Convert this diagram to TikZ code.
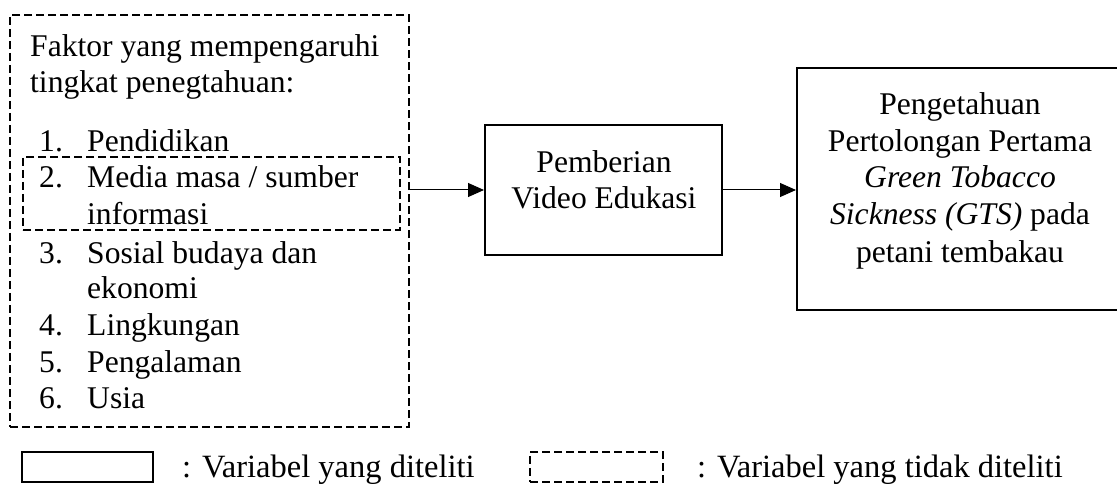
\documentclass[tikz,border=0pt]{standalone}
\usepackage{fontspec}
\setmainfont{Liberation Serif}
\usetikzlibrary{arrows.meta}
\begin{document}
\begin{tikzpicture}[x=1pt,y=-1pt,
  solidbox/.style={draw,line width=2pt,inner sep=0pt},
  dashbox/.style={draw,line width=1.6pt,dash pattern=on 8pt off 4pt,inner sep=0pt},
  txt/.style={inner sep=0pt,font=\fontsize{31.6pt}{36pt}\selectfont},
  arr/.style={line width=1pt,-{Triangle[length=16pt,width=14pt]}}]
  \useasboundingbox (0,0) rectangle (1117,484);

  % factors (not studied)
  \node[dashbox,minimum width=399pt,minimum height=412pt] (faktor) at (209.5,221) {};
  \node[dashbox,minimum width=377pt,minimum height=73pt] (media) at (211.5,193.5) {};
  \node[txt,anchor=base west] (judul1) at (30,57) {Faktor yang mempengaruhi};
  \node[txt,anchor=base west] (judul2) at (30,93) {tingkat penegtahuan:};
  \foreach \n/\y in {1/152,2/188,3/263,4/335,5/372,6/408} {
    \node[txt,anchor=base west] (no\n) at (39,\y) {\n.};
  }
  \foreach \y/\t [count=\i] in {152/Pendidikan,188/{Media masa / sumber},225/informasi,
      263/Sosial budaya dan,298/ekonomi,335/Lingkungan,372/Pengalaman,408/Usia} {
    \node[txt,anchor=base west] (item\i) at (87,\y) {\t};
  }

  % intervention and outcome
  \node[solidbox,minimum width=237pt,minimum height=130pt] (video) at (603.5,190) {};
  \node[txt,anchor=base] (video1) at (604,172) {Pemberian};
  \node[txt,anchor=base] (video2) at (604,208) {Video Edukasi};
  \node[solidbox,minimum width=326pt,minimum height=242pt] (gts) at (960,189) {};
  \foreach \y/\t [count=\i] in {115/Pengetahuan,152/Pertolongan Pertama,188/\textit{Green Tobacco},
      225/{\textit{Sickness (GTS)} pada},262/petani tembakau} {
    \node[txt,anchor=base] (gts\i) at (960,\y) {\t};
  }
  \draw[arr] (video -| faktor.east) -- (video);
  \draw[arr] (video) -- (video -| gts.west);

  % legend
  \node[solidbox,minimum width=131pt,minimum height=30pt] (kunci1) at (87.5,467) {};
  \node[txt,anchor=base west,font=\fontsize{32.5pt}{36pt}\selectfont] (ket1) at (182,477) {: Variabel yang diteliti};
  \node[dashbox,minimum width=133pt,minimum height=30pt] (kunci2) at (596.5,467) {};
  \node[txt,anchor=base west,font=\fontsize{32.5pt}{36pt}\selectfont] (ket2) at (697,477) {: Variabel yang tidak diteliti};
\end{tikzpicture}
\end{document}
